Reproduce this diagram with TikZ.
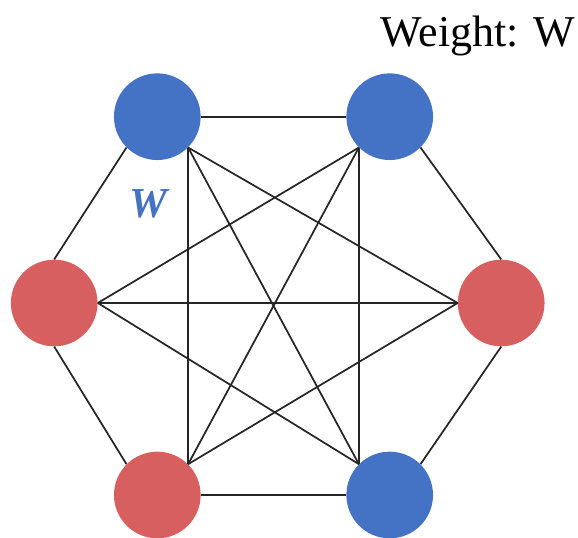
\documentclass[tikz,border=0pt]{standalone}
\usepackage{fontspec}
\setmainfont{Liberation Serif}
\usetikzlibrary{shapes.geometric}
\definecolor{vblue}{HTML}{4472C4}
\definecolor{vred}{HTML}{D75F5F}
\tikzset{
  vtx/.style={circle,fill=#1,minimum size=65pt,inner sep=0pt},
  vtx/.default={vblue},
  edg/.style={line width=1.3pt,black!85},
  lbl/.style={font=\fontsize{33}{38}\selectfont},
  wlbl/.style={font=\fontsize{32}{36}\selectfont\bfseries\itshape,text=vblue},
}
\begin{document}
\begin{tikzpicture}[x=0.75pt,y=-0.75pt]
 \useasboundingbox (0,0) rectangle (578,538);
 \node[vtx] (tl) at (157.3,116.7) {};
 \node[vtx] (tr) at (389.7,116.7) {};
 \node[vtx=vred] (l) at (54.2,303) {};
 \node[vtx=vred] (r) at (501.2,303) {};
 \node[vtx=vred] (bl) at (157.3,495) {};
 \node[vtx] (br) at (389.7,495) {};
 % hexagon
 \draw[edg] (tl.east)--(tr.west);
 \draw[edg] (bl.east)--(br.west);
 \draw[edg] (tl.south west)--(l.north);
 \draw[edg] (tr.south east)--(r.north);
 \draw[edg] (l.south)--(bl.north west);
 \draw[edg] (r.south)--(br.north east);
 % inner edges
 \foreach \p/\q in {tl.south east/bl.north east,tl.south east/br.north west,tl.south east/r.west,
   tr.south west/br.north west,tr.south west/bl.north east,tr.south west/l.east,
   l.east/r.west,l.east/br.north west,r.west/bl.north east}
  \draw[edg] (\p)--(\q);
 \node[lbl,anchor=base east] (wt) at (580,46.5) {Weight: W};
 \node[wlbl] (w) at (148.3,203.5) {W};
\end{tikzpicture}
\end{document}
